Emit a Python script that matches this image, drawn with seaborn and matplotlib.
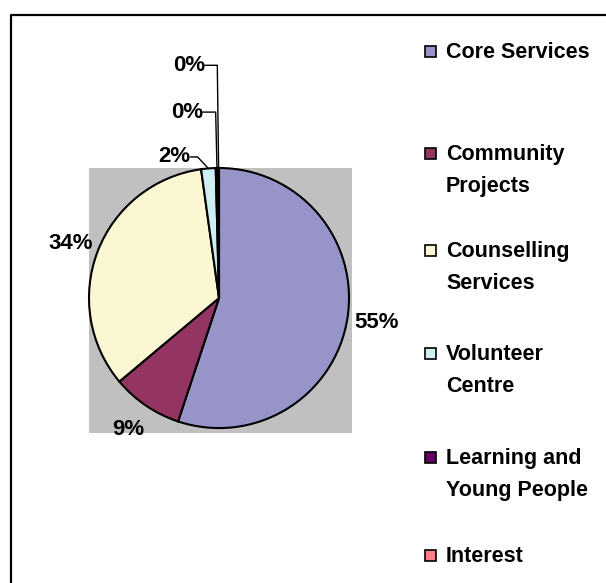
import numpy as np
import matplotlib.pyplot as plt
import matplotlib.lines as mlines
import matplotlib.patches as mpatches
import seaborn as sns

# ─── STYLE ────────────────────────────────────────────────────────────────────
sns.set_theme(style="white")
plt.rcParams["font.family"] = ["Liberation Sans", "DejaVu Sans"]
plt.rcParams["font.weight"] = "bold"
plt.rcParams["text.color"] = "black"
BASE_FONT_SIZE = 15.5

# ─── DATA ─────────────────────────────────────────────────────────────────────
CATEGORIES = [
    "Core Services",
    "Community\nProjects",
    "Counselling\nServices",
    "Volunteer\nCentre",
    "Learning and\nYoung People",
    "Interest",
]
SHARES = [55.1, 8.8, 33.9, 1.8, 0.3, 0.1]
COLORS = ["#9694C8", "#933463", "#FBF7D2", "#CDEEF3", "#660066", "#FF8080"]

# label anchor points (pie radius units, relative to centre)
LABEL_POS = [(1.215, -0.19), (-0.70, -1.01), (-1.14, 0.42),
             (-0.34, 1.085), (-0.245, 1.43), (-0.23, 1.79)]
LEADERS = [False, False, False, True, True, True]

W, H = 606, 583


def main():
    fig = plt.figure(figsize=(W / 100, H / 100), dpi=100)
    fig.patch.set_facecolor("white")

    # grey plot area, 89..352 x 168..433 px
    ax = fig.add_axes([89 / W, (H - 433) / H, 263 / W, 265 / H])
    ax.set_facecolor("#C0C0C0")

    wedges, _, autotexts = ax.pie(
        SHARES, colors=COLORS, startangle=90, counterclock=False,
        autopct="%1.0f%%", frame=True,
        wedgeprops={"edgecolor": "black", "linewidth": 1.5},
        textprops={"fontsize": 16, "fontweight": "bold", "color": "black"},
    )
    ax.set_xlim(-1.0, 1.023)
    ax.set_ylim(-1.038, 1.0)
    ax.set_aspect("auto")
    ax.set_xticks([])
    ax.set_yticks([])
    for sp in ax.spines.values():
        sp.set_visible(False)

    for w, t, pos, lead in zip(wedges, autotexts, LABEL_POS, LEADERS):
        t.set_position(pos)
        t.set_clip_on(False)
        t.set_ha("center")
        t.set_va("center")
        if lead:
            mid = np.deg2rad((w.theta1 + w.theta2) / 2)
            ex, ey = np.cos(mid), np.sin(mid)
            x0 = pos[0] + 0.12
            x1 = ex - 0.01 if pos[1] > 1.3 else x0 + 0.055
            ax.add_line(mlines.Line2D([x0, x1, ex], [pos[1], pos[1], ey],
                                      color="black", linewidth=1.0, clip_on=False))

    # legend, drawn entry by entry so the swatch sits on the first line
    first_line_y = [51, 153, 250, 353, 457, 555]
    for name, col, yc in zip(CATEGORIES, COLORS, first_line_y):
        fig.add_artist(mpatches.Rectangle(
            (425 / W, 1 - (yc + 5.5) / H), 11 / W, 11 / H,
            facecolor=col, edgecolor="black", linewidth=1.2,
            transform=fig.transFigure))
        fig.text(446 / W, 1 - (yc - 9) / H, name, ha="left", va="top",
                 fontsize=BASE_FONT_SIZE, fontweight="bold", color="black",
                 linespacing=1.68)

    # chart-area frame (only top and left fall inside the picture)
    fig.add_artist(mlines.Line2D([11 / W, 11 / W, 1.0], [0.0, 1 - 14.5 / H, 1 - 14.5 / H],
                                 color="black", linewidth=1.6, transform=fig.transFigure))

    fig.savefig("out.png", dpi=100)


if __name__ == "__main__":
    main()
